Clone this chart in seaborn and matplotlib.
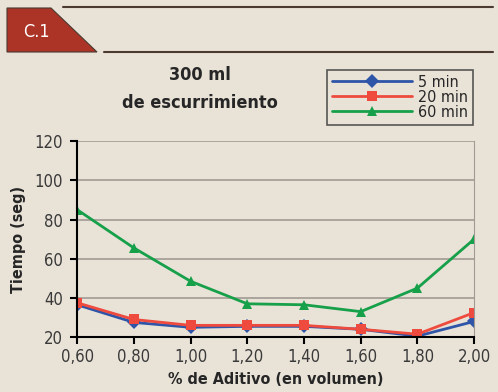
import pandas as pd
import matplotlib.pyplot as plt
import matplotlib.patches as mpatches
import seaborn as sns

# Data
aditivo = [0.60, 0.80, 1.00, 1.20, 1.40, 1.60, 1.80, 2.00]
tick_labels = ["0,60", "0,80", "1,00", "1,20", "1,40", "1,60", "1,80", "2,00"]
t5 = [36.5, 27.5, 25, 25.5, 25.5, 24, 20.5, 28]
t20 = [37.5, 29, 26, 26, 26, 24, 21.5, 32.5]
t60 = [85, 65.5, 48.5, 37, 36.5, 33, 45, 70]
series = ["5 min", "20 min", "60 min"]

df = pd.DataFrame({
    "x": aditivo * 3,
    "y": t5 + t20 + t60,
    "serie": [s for s in series for _ in aditivo],
})

bg = "#e9e2d7"
colors = {"5 min": "#2f55a8", "20 min": "#ee4b3e", "60 min": "#17a04a"}
markers = {"5 min": "D", "20 min": "s", "60 min": "^"}

sns.set_style("white")
plt.rcParams["font.family"] = ["DejaVu Sans"]
plt.rcParams["font.stretch"] = "condensed"

fig = plt.figure(figsize=(4.98, 3.92), dpi=100, facecolor=bg)
ax = fig.add_axes([0.155, 0.140, 0.797, 0.500], facecolor=bg)

sns.lineplot(data=df, x="x", y="y", hue="serie", style="serie",
             palette=colors, markers=markers, dashes=False,
             markersize=7, markeredgewidth=0, linewidth=2, ax=ax)

ax.set_xlim(0.60, 2.00)
ax.set_ylim(20, 120)
ax.set_xticks(aditivo)
ax.set_xticklabels(tick_labels)
ax.set_yticks([20, 40, 60, 80, 100, 120])
ax.yaxis.grid(True, color="#a09a94", linewidth=1.2)
ax.set_axisbelow(True)
ax.spines["top"].set_visible(False)
ax.spines["right"].set_color("#a09a94")
ax.spines["left"].set_color("black")
ax.spines["bottom"].set_color("black")
ax.spines["left"].set_linewidth(1.5)
ax.spines["bottom"].set_linewidth(1.5)
ax.tick_params(axis="both", direction="out", length=5, width=1.5,
               labelsize=12, colors="black", labelcolor="#3a3a3a")
ax.tick_params(axis="x", bottom=True, pad=3)
ax.tick_params(axis="y", left=True, pad=5)

ax.set_xlabel("% de Aditivo (en volumen)", fontsize=11.5, fontweight="bold", labelpad=4)
ax.set_ylabel("Tiempo (seg)", fontsize=11.5, fontweight="bold", labelpad=6)

leg = ax.legend(loc="upper left", bbox_to_anchor=(0.63, 1.362), fontsize=11.5,
                frameon=True, fancybox=False, edgecolor="#333333",
                facecolor=bg, handlelength=5.0, labelspacing=0.0,
                borderpad=0.3, borderaxespad=0, handletextpad=0.4)
leg.get_frame().set_linewidth(1.2)

fig.text(0.402, 0.795, "300 ml", ha="center", fontsize=13, fontweight="bold")
fig.text(0.402, 0.725, "de escurrimiento", ha="center", fontsize=13, fontweight="bold")

# Header
W, H = 498, 392
def fx(px):
    return px / W
def fy(py):
    return 1 - py / H
poly = mpatches.Polygon([(fx(7), fy(8)), (fx(51), fy(8)), (fx(97), fy(52)), (fx(7), fy(52))],
                        closed=True, facecolor="#ab3426", edgecolor="#4a3a30",
                        linewidth=0.8, transform=fig.transFigure)
fig.patches.append(poly)
fig.add_artist(plt.Line2D([fx(63), fx(493)], [fy(7), fy(7)], color="#4a3a30", linewidth=1.5))
fig.add_artist(plt.Line2D([fx(104), fx(493)], [fy(52), fy(52)], color="#4a3a30", linewidth=1.5))
fig.text(fx(23), fy(32), "C.1", color="white", fontsize=13, va="center")

fig.savefig("out.png", dpi=100, facecolor=bg)
